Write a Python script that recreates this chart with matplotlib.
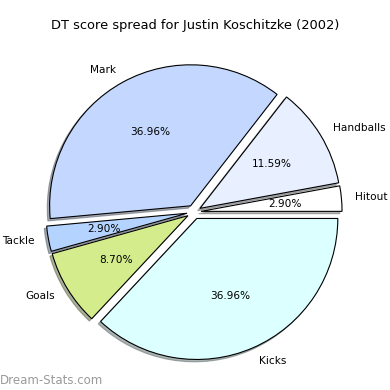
import matplotlib
matplotlib.use("Agg")
import matplotlib.pyplot as plt

# DT score spread (points)
labels = ["Hitout", "Handballs", "Mark", "Tackle", "Goals", "Kicks"]
points = [4, 16, 51, 4, 12, 51]
colors = ["#ffffff", "#e8efff", "#c4d8ff", "#b4d4ff", "#d4ec8c", "#dcffff"]
explode = [0.05] * len(points)

title = "DT score spread for Justin Koschitzke (2002)"
watermark = "Dream-Stats.com"

fig = plt.figure(figsize=(3.9, 3.9), dpi=100)

# place the pie so that centre and radius match the original
cx, cy, r = 194, 212, 141
lim = 1.3
half = r * lim
ax = fig.add_axes([(cx - half) / 390, (390 - cy - half) / 390, 2 * half / 390, 2 * half / 390])

wedges, texts, autotexts = ax.pie(
    points, labels=labels, colors=colors, explode=explode,
    autopct="%.2f%%", shadow={"ox": -0.012, "oy": -0.012, "shade": 0.6},
    startangle=0,
    wedgeprops={"edgecolor": "black", "linewidth": 0.8},
    textprops={"fontsize": 7.6},
)
for t in texts:
    t.set_clip_on(False)
ax.set_xlim(-lim, lim)
ax.set_ylim(-lim, lim)
ax.set_aspect("equal")
ax.axis("off")

fig.text(0.5, 1 - 25 / 390, title, ha="center", va="center", fontsize=9.4)
fig.text(0.0, 1 - 380 / 390, watermark, ha="left", va="center", fontsize=8.5, color="#9a9a9a")

fig.savefig("out.png", dpi=100)
